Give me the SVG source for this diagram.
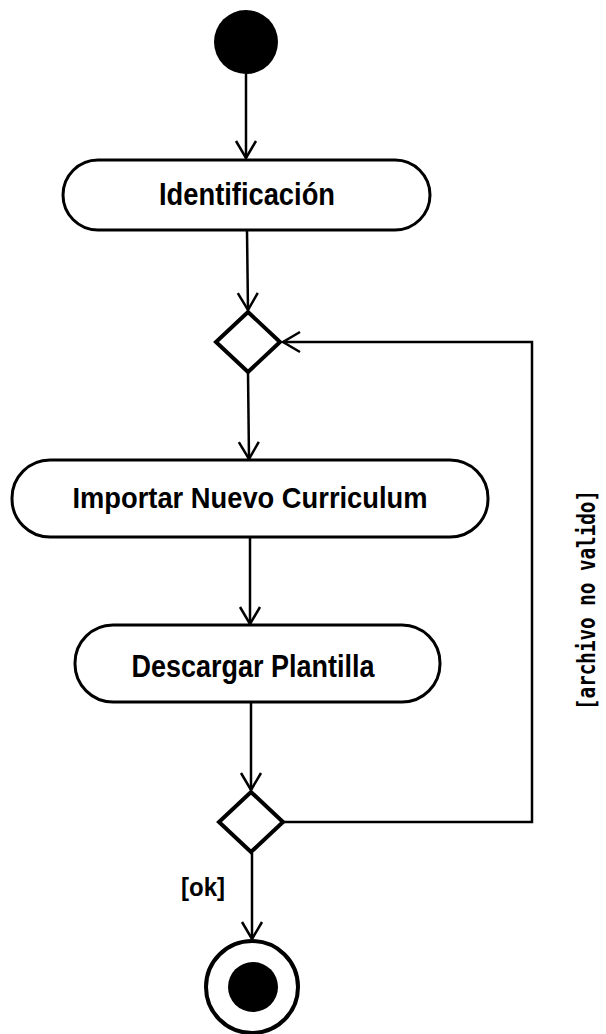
<svg xmlns="http://www.w3.org/2000/svg" width="606" height="1034" viewBox="0 0 606 1034">
<style>
.act{fill:#fff;stroke:#000;stroke-width:3}
.dec{fill:#fff;stroke:#000;stroke-width:4;stroke-linejoin:miter}
.lbl{font-family:"Liberation Sans Narrow","Liberation Sans",Arial,sans-serif;font-weight:bold;fill:#000;text-anchor:middle}
.edge{fill:none;stroke:#000;stroke-width:2.5}
.guard{font-family:"DejaVu Sans Mono","Liberation Mono",monospace;fill:#000;text-anchor:middle}
</style>
<defs>
<marker id="arr" markerUnits="userSpaceOnUse" markerWidth="24" markerHeight="24" viewBox="-20 -12 24 24" refX="0" refY="0" orient="auto">
<path d="M-17,-10 L0,0 L-17,10" fill="none" stroke="#000" stroke-width="2.5"/>
</marker>
</defs>
<g id="connectors">
<path class="edge" d="M246,74 L246,158" marker-end="url(#arr)"/>
<path class="edge" d="M247,231 L248,310" marker-end="url(#arr)"/>
<path class="edge" d="M248,373 L249,459" marker-end="url(#arr)"/>
<path class="edge" d="M250,538 L250,624" marker-end="url(#arr)"/>
<path class="edge" d="M251,703 L251,790" marker-end="url(#arr)"/>
<path class="edge" d="M252,853 L252,939" marker-end="url(#arr)"/>
<path class="edge" d="M284,822 L532,822 L532,342 L283,342" marker-end="url(#arr)"/>
<text class="lbl" x="203" y="896" font-size="26" textLength="44" lengthAdjust="spacingAndGlyphs">[ok]</text>
<text class="guard" transform="translate(595,600) rotate(-90)" font-size="25" font-weight="bold" textLength="220" lengthAdjust="spacingAndGlyphs">[archivo no valido]</text>
</g>
<g id="start">
<circle cx="246" cy="42" r="32" fill="#000"/>
</g>
<g id="identificacion">
<rect class="act" x="63" y="160" width="367" height="70" rx="35" ry="35"/>
<text class="lbl" x="247" y="205" font-size="32" textLength="176" lengthAdjust="spacingAndGlyphs">Identificación</text>
</g>
<g id="merge">
<polygon class="dec" points="248,312 280,342 248,372 216,342"/>
</g>
<g id="importar">
<rect class="act" x="12" y="460" width="476" height="77" rx="38" ry="38"/>
<text class="lbl" x="250" y="508" font-size="30" textLength="355" lengthAdjust="spacingAndGlyphs">Importar Nuevo Curriculum</text>
</g>
<g id="descargar">
<rect class="act" x="75" y="625" width="365" height="77" rx="38" ry="38"/>
<text class="lbl" x="253" y="677" font-size="31" textLength="243" lengthAdjust="spacingAndGlyphs">Descargar Plantilla</text>
</g>
<g id="decision">
<polygon class="dec" points="251,792 283,822 251,852 219,822"/>
</g>
<g id="end">
<circle cx="252" cy="987" r="46" fill="#fff" stroke="#000" stroke-width="4"/>
<circle cx="253" cy="987" r="25" fill="#000"/>
</g>
</svg>
